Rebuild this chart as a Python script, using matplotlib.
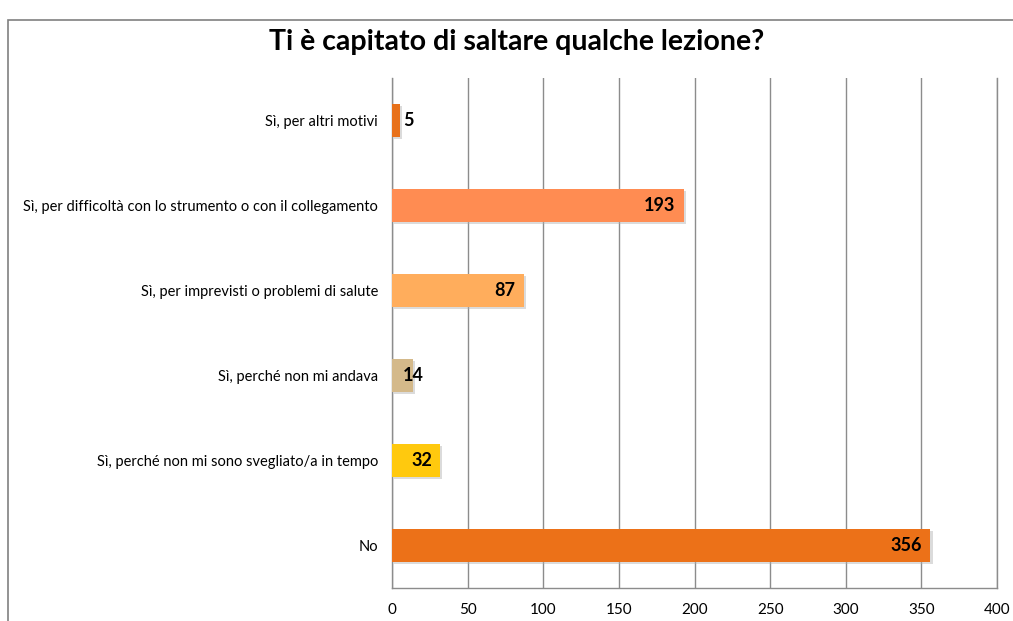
import matplotlib
matplotlib.use("Agg")
import matplotlib.pyplot as plt
import matplotlib.patheffects as pe
from matplotlib.patches import Rectangle

categories = [
    "Sì, per altri motivi",
    "Sì, per difficoltà con lo strumento o con il collegamento",
    "Sì, per imprevisti o problemi di salute",
    "Sì, perché non mi andava",
    "Sì, perché non mi sono svegliato/a in tempo",
    "No",
]
values = [5, 193, 87, 14, 32, 356]
colors = ["#E8711A", "#FF8C52", "#FFAD5C", "#D4B98A", "#FFC90E", "#EC7118"]
xticks = [0, 50, 100, 150, 200, 250, 300, 350, 400]
title = "Ti è capitato di saltare qualche lezione?"

plt.rcParams['font.family'] = ['Lato', 'DejaVu Sans']

W, H = 1013, 621
fig = plt.figure(figsize=(W / 100, H / 100), dpi=100)
fig.patch.set_facecolor("white")

# outer frame
fig.add_artist(Rectangle((8 / W, -0.1), 1.2, 1 - 20 / H + 0.1, transform=fig.transFigure,
                         fill=False, edgecolor="#808080", linewidth=1.2))

ax = fig.add_axes([392 / W, 1 - 588 / H, (997 - 392) / W, (588 - 78) / H])
ypos = list(range(len(categories)))
bars = ax.barh(ypos, values, height=0.39, color=colors, zorder=3)
for b in bars:
    b.set_path_effects([pe.SimplePatchShadow(offset=(1.5, -1.5), shadow_rgbFace="#b0b0b0", alpha=0.45),
                        pe.Normal()])

ax.set_xlim(0, 400)
ax.set_ylim(len(categories) - 0.5, -0.5)
ax.set_xticks(xticks)
ax.set_xticklabels([str(t) for t in xticks], fontsize=11)
ax.set_yticks(ypos)
ax.set_yticklabels(categories, fontsize=10.5)
ax.tick_params(axis="both", length=0, colors="black")
ax.tick_params(axis="x", pad=11)
ax.tick_params(axis="y", pad=10)
ax.grid(axis="x", color="#8c8c8c", linewidth=1, zorder=0)
ax.spines["top"].set_visible(False)
for s in ["left", "right", "bottom"]:
    ax.spines[s].set_color("#8c8c8c")
    ax.spines[s].set_linewidth(1)

for y, v in zip(ypos, values):
    if v >= 30:
        ax.annotate(str(v), (v, y), xytext=(-6, 0), textcoords="offset points",
                    ha="right", va="center", fontsize=13, fontweight="bold", zorder=5)
    else:
        ax.annotate(str(v), (0, y), xytext=(8, 0), textcoords="offset points",
                    ha="left", va="center", fontsize=13, fontweight="bold", zorder=5)

fig.text(517 / W, 1 - 42 / H, title, ha="center", va="center", fontsize=20.5, fontweight="bold")

fig.savefig("out.png", dpi=100)
